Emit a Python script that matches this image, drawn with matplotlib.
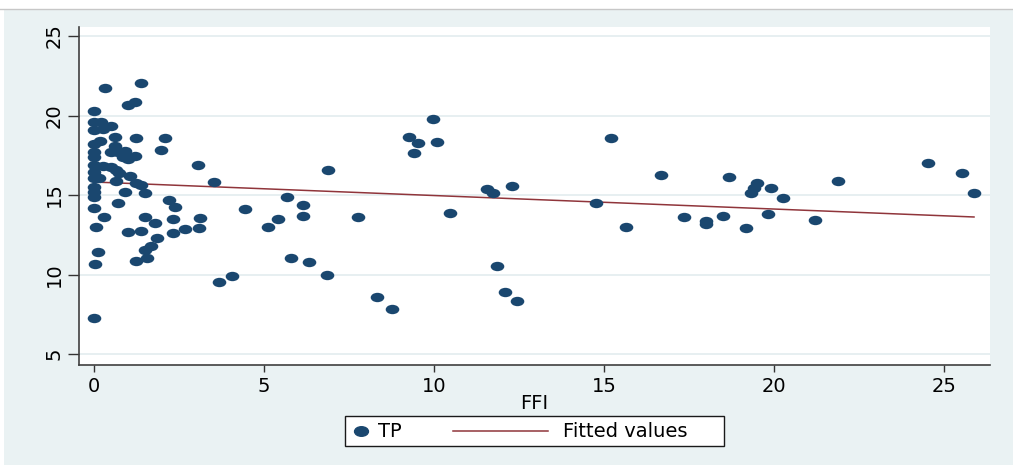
import matplotlib.pyplot as plt
from matplotlib.path import Path
from matplotlib.transforms import Affine2D
from matplotlib.patches import Rectangle
from matplotlib.lines import Line2D

# TP against FFI
ffi = [0.00, 0.31, 1.39, 1.00, 1.20, 0.00, 0.22, 0.51, 0.00, 0.26,
       0.61, 1.24, 2.10, 0.00, 0.17, 0.63, 1.98, 0.00, 0.51, 0.71,
       0.90, 1.21, 0.85, 1.00, 0.00, 0.00, 0.26, 0.51, 3.06, 0.00,
       0.66, 0.75, 1.05, 0.00, 0.15, 0.66, 1.24, 1.39, 0.00, 0.90,
       0.00, 0.00, 1.49, 0.00, 0.71, 2.22, 2.37, 0.29, 1.49, 1.80,
       2.32, 3.11, 0.05, 1.00, 1.39, 1.85, 2.32, 2.67, 3.08, 1.67,
       1.49, 0.12, 1.24, 1.57, 0.02, 0.00, 3.53, 4.44, 5.67, 6.16,
       6.16, 5.40, 5.13, 6.89, 5.78, 6.33, 6.84, 3.68, 4.05, 7.77,
       8.31, 8.75, 9.96, 9.25, 9.54, 10.08, 9.42, 10.47, 11.55, 11.74,
       12.29, 11.84, 12.09, 12.43, 14.75, 15.20, 15.64, 16.68, 17.35, 18.00,
       18.00, 18.51, 18.68, 19.17, 19.49, 19.41, 19.32, 19.90, 19.83, 20.27,
       21.19, 21.87, 24.54, 25.54, 25.88]
tp = [20.30, 21.71, 22.06, 20.66, 20.83, 19.61, 19.61, 19.34, 19.09, 19.13,
      18.67, 18.60, 18.60, 18.20, 18.40, 18.08, 17.83, 17.70, 17.70, 17.70,
      17.80, 17.45, 17.37, 17.24, 17.37, 16.90, 16.82, 16.78, 16.89, 16.47,
      16.57, 16.36, 16.19, 16.05, 16.05, 15.88, 15.74, 15.63, 15.52, 15.20,
      15.20, 14.90, 15.15, 14.20, 14.50, 14.70, 14.27, 13.64, 13.64, 13.22,
      13.47, 13.53, 12.97, 12.65, 12.74, 12.31, 12.63, 12.86, 12.90, 11.81,
      11.54, 11.40, 10.85, 11.06, 10.64, 7.28, 15.80, 14.10, 14.90, 14.37,
      13.70, 13.47, 13.00, 16.57, 11.06, 10.80, 9.97, 9.55, 9.91, 13.64,
      8.60, 7.85, 19.78, 18.67, 18.29, 18.35, 17.62, 13.85, 15.36, 15.14,
      15.57, 10.53, 8.92, 8.35, 14.52, 18.60, 13.00, 16.26, 13.60, 13.38,
      13.18, 13.68, 16.11, 12.94, 15.74, 15.42, 15.11, 15.42, 13.79, 14.83,
      13.43, 15.88, 16.99, 16.40, 15.14]
# fitted values line, read at its two ends
fit_x = [0.00, 25.88]
fit_y = [15.82, 13.62]
x_ticks = [0, 5, 10, 15, 20, 25]
y_ticks = [5, 10, 15, 20, 25]

NAVY = '#1a476f'
MAROON = '#90353b'
BG = '#eaf2f3'
W, H = 1013, 465
FS = 14
plt.rcParams['font.family'] = ['DejaVu Sans']


def fx(px):
    return px / W


def fy(py):
    return 1 - py / H


# stata markers come out a bit wider than tall in this export
ELL = Path.unit_circle().transformed(Affine2D().scale(1.45, 1.0))

fig = plt.figure(figsize=(W / 100, H / 100), dpi=100, facecolor='white')
fig.add_artist(Rectangle((fx(4), 0), 1 - fx(4), fy(10), transform=fig.transFigure,
                         fc=BG, ec='none', zorder=-10))
fig.add_artist(Line2D([0, 1], [fy(9), fy(9)], transform=fig.transFigure, color='0.78', lw=1))

ax = fig.add_axes([fx(79), fy(365), fx(990) - fx(79), fy(27) - fy(365)])
ax.set_facecolor('white')

ax.plot(fit_x, fit_y, color=MAROON, lw=1.1, zorder=2)
ax.scatter(ffi, tp, s=96, marker=ELL, color=NAVY, lw=0, zorder=3)

ax.set_xlim(-0.44, 26.35)
ax.set_ylim(4.31, 25.57)
ax.set_xticks(x_ticks)
ax.set_yticks(y_ticks)
ax.yaxis.grid(True, color='#e3ecef', lw=1.2, zorder=0)
ax.set_axisbelow(True)
for s in ('top', 'right'):
    ax.spines[s].set_visible(False)
for s in ('left', 'bottom'):
    ax.spines[s].set_color('0.25')
    ax.spines[s].set_linewidth(1.2)
ax.tick_params(axis='y', length=8, width=1, color='0.2', pad=3, labelsize=FS, labelrotation=90)
for t in ax.get_yticklabels():
    t.set_va('center')
ax.tick_params(axis='x', length=5, width=1, color='0.2', pad=4, labelsize=FS)
ax.set_xlabel('FFI', fontsize=FS, labelpad=-2)

# legend drawn by hand to get the stata layout
fig.add_artist(Rectangle((fx(345), fy(446)), fx(724) - fx(345), fy(416) - fy(446),
                         transform=fig.transFigure, fc='white', ec='0.1', lw=1))
ly = fy(431)
fig.add_artist(Line2D([fx(361)], [ly], transform=fig.transFigure, marker=ELL,
                      ms=10, color=NAVY, lw=0))
fig.text(fx(378), ly, 'TP', fontsize=FS, va='center', ha='left')
fig.add_artist(Line2D([fx(453), fx(548)], [ly, ly], transform=fig.transFigure,
                      color=MAROON, lw=1.1))
fig.text(fx(563), ly, 'Fitted values', fontsize=FS, va='center', ha='left')

fig.savefig('out.png', dpi=100, facecolor='white')
